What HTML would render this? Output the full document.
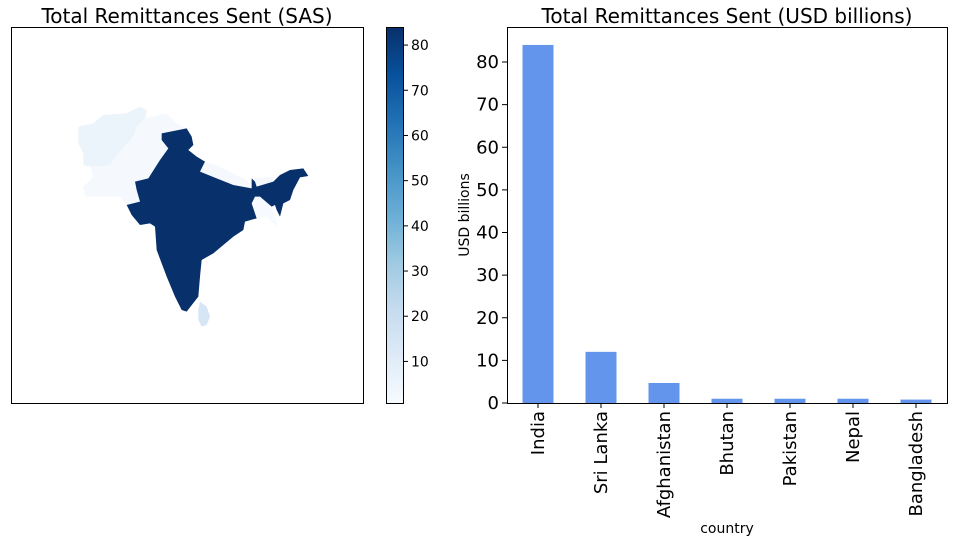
<!DOCTYPE html>
<html><head><meta charset="utf-8"><style>
body{margin:0;background:#fff}
svg text{font-family:"DejaVu Sans","Liberation Sans",sans-serif;fill:#000}
</style></head><body>
<svg id="c" width="955" height="542" xmlns="http://www.w3.org/2000/svg">
<defs><linearGradient id="blues" x1="0" y1="1" x2="0" y2="0">
<stop offset="0" stop-color="#f7fbff"/><stop offset="0.125" stop-color="#deebf7"/><stop offset="0.25" stop-color="#c6dbef"/><stop offset="0.375" stop-color="#9ecae1"/><stop offset="0.5" stop-color="#6baed6"/><stop offset="0.625" stop-color="#4292c6"/><stop offset="0.75" stop-color="#2171b5"/><stop offset="0.875" stop-color="#08519c"/><stop offset="1" stop-color="#08306b"/>
</linearGradient></defs>
<text x="187" y="23" font-size="20" text-anchor="middle">Total Remittances Sent (SAS)</text>
<rect x="11.5" y="27.5" width="352" height="376" fill="#fff" stroke="#000" stroke-width="1"/>
<g transform="translate(60,90) scale(0.33333)">
<polygon fill="#ebf3fb" points="55,110 100,100 130,75 200,70 240,50 260,60 255,85 230,110 220,140 175,190 150,225 90,230 70,225 70,190 55,160"/>
<polygon fill="#f5f9fe" points="255,85 320,70 350,100 380,115 305,130 305,150 325,175 300,210 265,265 225,275 230,300 240,335 200,345 180,320 75,320 70,290 100,260 90,230 150,225 175,190 220,140 230,110"/>
<polygon fill="#f5f9fe" points="410,200 435,215 470,225 520,250 560,270 575,295 520,285 470,265 420,245"/>
<polygon fill="#f5f9fe" points="580,265 640,260 640,275 590,290"/>
<polygon fill="#f7fbff" points="585,320 600,320 635,350 645,380 655,410 640,400 620,380 590,385 575,340"/>
<polygon fill="#d6e6f4" points="420,635 440,650 450,680 440,705 425,710 415,690 415,660"/>
<polygon fill="#08306b" points="305,130 380,115 395,140 400,165 385,180 410,200 435,215 420,245 470,265 520,285 575,295 575,265 585,275 590,290 640,275 660,255 690,240 730,235 745,258 720,262 700,300 690,330 670,340 660,380 650,360 645,345 635,350 600,320 585,320 575,340 590,385 555,395 550,420 520,440 490,465 460,490 425,510 420,560 415,620 380,665 365,660 345,620 320,560 290,480 285,410 270,400 240,405 215,375 200,345 240,335 230,300 225,275 265,265 300,210 325,175 305,150"/>
</g>
<rect x="386.5" y="27.5" width="17" height="376" fill="url(#blues)" stroke="#000" stroke-width="1"/>
<g id="cbt"></g>
<text x="727" y="23" font-size="20" text-anchor="middle">Total Remittances Sent (USD billions)</text>
<g id="bars"></g>
<rect x="507.5" y="27.5" width="440" height="376" fill="none" stroke="#000" stroke-width="1"/>
<g id="yt"></g>
<g id="xt"></g>
<text transform="translate(469,215) rotate(-90)" font-size="14" text-anchor="middle">USD billions</text>
<text x="727" y="533" font-size="14" text-anchor="middle">country</text>
</svg>
<script>
const categories=["India","Sri Lanka","Afghanistan","Bhutan","Pakistan","Nepal","Bangladesh"];
const values=[84,12,4.7,1.0,1.0,1.0,0.8];
const yTicks=[0,10,20,30,40,50,60,70,80];
const cbTicks=[10,20,30,40,50,60,70,80];
const cbMin=0.8, cbMax=84;
const NS="http://www.w3.org/2000/svg";
function mk(t,a,p){const e=document.createElementNS(NS,t);for(const k in a)e.setAttribute(k,a[k]);p.appendChild(e);return e;}
const y0=403, yScale=v=>y0-v*(341/80);
const xCenter=i=>538+i*63;
const cbY=v=>403-(v-cbMin)/(cbMax-cbMin)*376;
const bg=document.getElementById('bars'), yt=document.getElementById('yt'), xt=document.getElementById('xt'), cb=document.getElementById('cbt');
values.forEach((v,i)=>{
 const r=mk('rect',{x:xCenter(i)-15.5,y:yScale(v),width:31,height:y0-yScale(v),fill:'#6495ed'},bg);
 
 
 const l=mk('line',{x1:xCenter(i),x2:xCenter(i),y1:403,y2:408,stroke:'#000'},xt);
 
 
 const t=mk('text',{transform:`translate(${xCenter(i)+6},411) rotate(-90)`,'font-size':18,'text-anchor':'end'},xt);
 t.textContent=categories[i];
 
 
});
yTicks.forEach(v=>{
 const l=mk('line',{x1:502,x2:507,y1:yScale(v),y2:yScale(v),stroke:'#000'},yt);
 
 
 const t=mk('text',{x:499,y:yScale(v)+6,'font-size':18,'text-anchor':'end'},yt);
 t.textContent=v;
 
 
});
cbTicks.forEach(v=>{
 const l=mk('line',{x1:403,x2:408,y1:cbY(v),y2:cbY(v),stroke:'#000'},cb);
 
 
 const t=mk('text',{x:411,y:cbY(v)+5,'font-size':14},cb);
 t.textContent=v;
 
 
});
</script>
</body></html>
